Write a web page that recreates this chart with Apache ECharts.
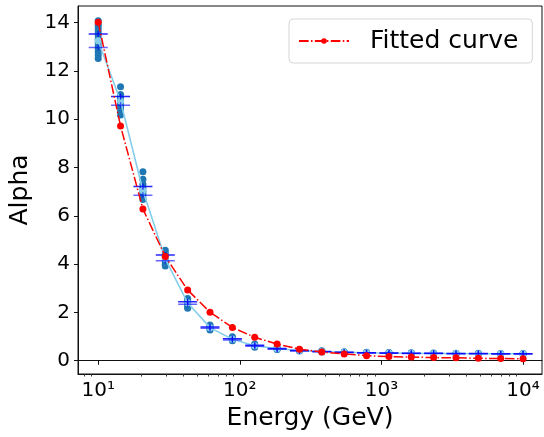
<!DOCTYPE html>
<html><head><meta charset="utf-8">
<script src="https://cdn.jsdelivr.net/npm/echarts@6/dist/echarts.min.js"></script>
<style>html,body{margin:0;padding:0;background:#fff}#c{width:544px;height:437px}</style>
</head><body><div id="c"></div>
<script>
const energies = [10, 14.38, 20.69, 29.76, 42.81, 61.58, 88.59, 127.43, 183.30, 263.67, 379.27, 545.56, 784.76, 1128.8, 1623.8, 2335.7, 3359.8, 4832.9, 6951.9, 10000];
const fitted = [14.02, 9.72, 6.28, 4.32, 2.93, 2.01, 1.38, 0.97, 0.69, 0.48, 0.36, 0.28, 0.21, 0.17, 0.15, 0.13, 0.12, 0.10, 0.09, 0.08];
const meanAlpha = [13.25, 10.75, 7.05, 4.22, 2.40, 1.37, 0.89, 0.62, 0.50, 0.42, 0.38, 0.35, 0.33, 0.32, 0.31, 0.30, 0.30, 0.29, 0.29, 0.29];
const barUpper = [13.53, 10.94, 7.21, 4.38, 2.44, 1.40, 0.91, 0.64, 0.51, 0.42, 0.38, 0.35, 0.33, 0.32, 0.31, 0.31, 0.30, 0.30, 0.29, 0.29];
const barLower = [12.97, 10.58, 6.85, 4.14, 2.34, 1.34, 0.86, 0.60, 0.48, 0.40, 0.37, 0.34, 0.32, 0.31, 0.30, 0.30, 0.29, 0.29, 0.28, 0.28];
const samples = [
  [14.08, 13.92, 13.83, 13.71, 13.58, 13.46, 13.31, 13.19, 13.04, 12.91, 12.79, 12.66, 12.52],
  [11.35, 11.03, 10.9, 10.79, 10.66, 10.54, 10.43, 10.31, 10.18],
  [7.83, 7.52, 7.31, 7.15, 7.01, 6.9, 6.79, 6.68],
  [4.58, 4.45, 4.33, 4.21, 4.1, 4.0, 3.92],
  [2.58, 2.49, 2.41, 2.33, 2.24, 2.17],
  [1.48, 1.42, 1.37, 1.31, 1.27],
  [0.99, 0.93, 0.88, 0.83],
  [0.69, 0.64, 0.6, 0.56],
  [0.55, 0.51, 0.48, 0.46],
  [0.45, 0.42, 0.4],
  [0.41, 0.38, 0.36],
  [0.37, 0.35, 0.33],
  [0.35, 0.33, 0.32],
  [0.34, 0.32, 0.31],
  [0.33, 0.31, 0.3],
  [0.32, 0.3, 0.29],
  [0.31, 0.3, 0.29],
  [0.31, 0.29, 0.28],
  [0.3, 0.29, 0.28],
  [0.3, 0.29, 0.28]
];
const xMajorTicks = [10, 100, 1000, 10000];
const xTickLabels = ['10¹', '10²', '10³', '10⁴'];
const xMinorTicks = [8, 9, 20, 30, 40, 50, 60, 70, 80, 90, 200, 300, 400, 500, 600, 700, 800, 900, 2000, 3000, 4000, 5000, 6000, 7000, 8000, 9000];
const yTicks = [0, 2, 4, 6, 8, 10, 12, 14];
const yTickLabels = ['0', '2', '4', '6', '8', '10', '12', '14'];

const FONT = 'DejaVu Sans';
const scatterData = [];
samples.forEach((vals, i) => vals.forEach(v => scatterData.push([energies[i], v])));
const pair = arr => arr.map((v, i) => [energies[i], v]);
const plusPath = 'path://M0,2.25 L20,2.25 L20,3.75 L0,3.75 Z M9.3,0 L10.7,0 L10.7,6 L9.3,6 Z';

const chart = echarts.init(document.getElementById('c'), null, {renderer: 'canvas'});
chart.setOption({
  animation: false,
  backgroundColor: '#fff',
  grid: {left: 72, top: 6, width: 470, height: 368, show: true, borderColor: '#111', borderWidth: 1, containLabel: false},
  legend: {
    data: ['Fitted curve'],
    left: 289, top: 19,
    padding: [7, 14, 7, 9],
    itemWidth: 50, itemHeight: 7, itemGap: 0,
    borderColor: '#d6d6d6', borderWidth: 1, borderRadius: 4,
    backgroundColor: 'rgba(255,255,255,0.85)',
    textStyle: {fontFamily: FONT, fontSize: 25, color: '#000', padding: [0, 0, 0, 16], lineHeight: 30}
  },
  xAxis: [{
    type: 'log', logBase: 10, min: 7.2, max: 13600,
    name: 'Energy (GeV)', nameLocation: 'middle', nameGap: 32,
    nameTextStyle: {fontFamily: FONT, fontSize: 25, color: '#000'},
    axisLine: {show: true, lineStyle: {color: '#111', width: 1}},
    axisTick: {show: true, inside: false, length: 4, customValues: xMajorTicks, lineStyle: {color: '#111', width: 1}},
    axisLabel: {show: true, margin: 7, customValues: xMajorTicks, fontFamily: FONT, fontSize: 20, color: '#000',
      formatter: v => xTickLabels[xMajorTicks.indexOf(Math.round(v))] || ''},
    splitLine: {show: false}, minorTick: {show: false}
  }, {
    type: 'log', logBase: 10, min: 7.2, max: 13600, position: 'bottom', gridIndex: 0,
    axisLine: {show: true, lineStyle: {color: '#111', width: 1}},
    axisTick: {show: true, inside: false, length: 2.5, customValues: xMinorTicks, lineStyle: {color: '#333', width: 1}},
    axisLabel: {show: false},
    splitLine: {show: false}
  }],
  yAxis: {
    type: 'value', min: -0.55, max: 14.69,
    name: 'Alpha', nameLocation: 'middle', nameGap: 45,
    nameTextStyle: {fontFamily: FONT, fontSize: 25, color: '#000'},
    axisLine: {show: true, lineStyle: {color: '#111', width: 1}},
    axisTick: {show: true, inside: false, length: 4, customValues: yTicks, lineStyle: {color: '#111', width: 1}},
    axisLabel: {show: true, margin: 8, customValues: yTicks, fontFamily: FONT, fontSize: 20, color: '#000',
      formatter: v => yTickLabels[yTicks.indexOf(Math.round(v))] || ''},
    splitLine: {show: false}
  },
  series: [
    {name: 'samples', type: 'scatter', xAxisIndex: 0, data: scatterData, symbol: 'circle', symbolSize: 7,
      itemStyle: {color: '#1f77b4', opacity: 1}, z: 2, silent: true},
    {name: 'mean', type: 'line', xAxisIndex: 0, data: pair(meanAlpha), symbol: 'circle', symbolSize: 7, showSymbol: true,
      lineStyle: {color: '#87ceeb', width: 1.6}, itemStyle: {color: '#87ceeb'}, z: 3, silent: true},
    {name: 'upper', type: 'scatter', xAxisIndex: 0, data: pair(barUpper), symbol: plusPath, symbolSize: [19, 6],
      itemStyle: {color: '#0000ff', opacity: 0.85}, z: 4, silent: true},
    {name: 'lower', type: 'scatter', xAxisIndex: 0, data: pair(barLower), symbol: plusPath, symbolSize: [19, 6],
      itemStyle: {color: '#0000ff', opacity: 0.6}, z: 4, silent: true},
    {name: 'Fitted curve', type: 'line', xAxisIndex: 0, data: pair(fitted), symbol: 'circle', symbolSize: 7, showSymbol: true,
      lineStyle: {color: '#ff0000', width: 1.5, type: [9.6, 2.4, 1.5, 2.4]}, itemStyle: {color: '#ff0000'}, z: 5, silent: true}
  ]
});
</script></body></html>
